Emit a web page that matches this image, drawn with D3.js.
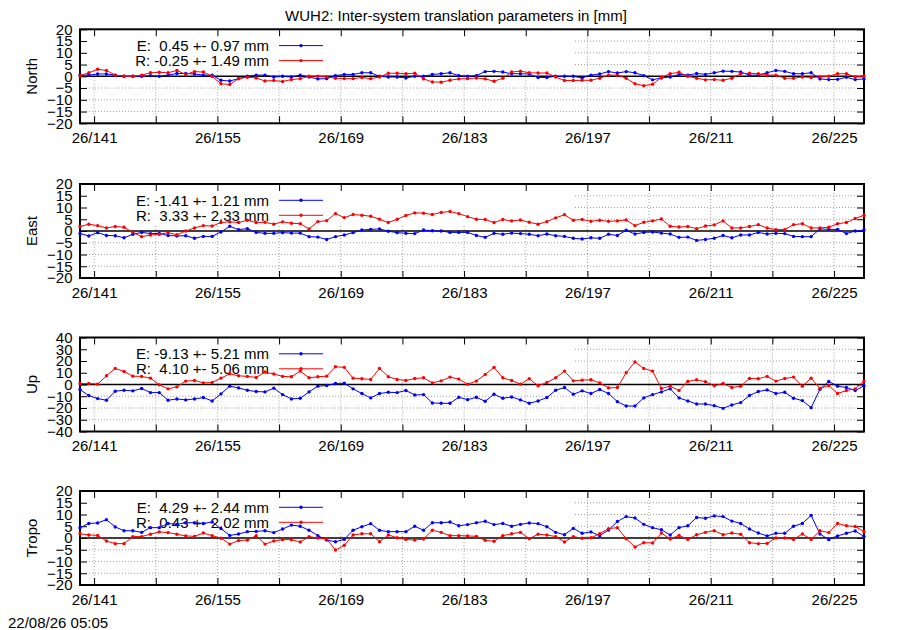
<!DOCTYPE html>
<html>
<head>
<meta charset="utf-8">
<script src="https://cdn.jsdelivr.net/npm/d3@7"></script>
<style>
  body { margin: 0; background: #fff; }
  text { font-family: "Liberation Sans", Arial, sans-serif; font-size: 15px; fill: #000; }
  .keytxt { white-space: pre; }
</style>
</head>
<body>
<svg id="chart"></svg>
<script>
// day of year 2026, one solution per day
var days = d3.range(139, 229);
var xTickDays = d3.range(141, 229, 7);   // labels only every 14 days

var panelNames = ["North", "East", "Up", "Tropo"];
var yLimits = [20, 20, 40, 20];
var yStepSizes = [5, 5, 10, 5];

// legend statistics (mean +- rms)
var meanE = [0.45, -1.41, -9.13, 4.29];
var rmsE = [0.97, 1.21, 5.21, 2.44];
var meanR = [-0.25, 3.33, 4.10, 0.43];
var rmsR = [1.49, 2.33, 5.06, 2.02];

// E = Galileo, R = GLONASS (mm)
var northE = [0.5, 0.5, 1, 1, 0.5, 0, 0, 0, 0.3, 0,
  0.5, 1.2, 1.2, 1, 0.5, 0.5, -1.7, -2, -1, 0,
  0.5, 0.5, -0.3, 0, -0.3, 0.5, -0.3, -1.1, -1, 0.3,
  0.8, 0.8, 1.5, 1.5, 0, -0.3, -0.3, -0.7, 0, 0,
  0.8, 1.1, 1.5, 0.3, 0, 0.3, 2, 2.1, 1.8, 1.1,
  1.1, 1.0, -0.5, -0.5, 0, 0, 0, -0.7, 0.5, 1,
  2, 1.4, 2, 1.5, 0.3, -1.5, -0.7, -0.3, 0.8, 0.5,
  1.2, 0.8, 1.5, 2.2, 2.1, 1.8, 0.5, 0.5, 1.5, 2.5,
  2.1, 1.1, 1.1, 1.5, -1.1, -1.4, -1.3, -0.4, -1.4, -1.1];
var northR = [0.3, 1.5, 3, 2.5, 0.5, 0, 0, 0.5, 1.5, 1.7,
  1.5, 2.5, 0.8, 2, 1.8, 0, -3.2, -3.5, -1, -0.4,
  -0.7, -2, -1.8, -2.2, -1.4, -1, 0, 0, -0.3, -0.8,
  -1, -1, -0.5, -1, -0.3, 1.3, 1.3, 1.1, 1.3, -1.1,
  -2.4, -2.5, -1.7, -1.1, -1, -0.7, -1.1, -2.1, -0.8, 1.8,
  2.2, 1.5, 1.4, 1.4, -0.3, -1.8, -1.8, -1.7, -1.7, -0.8,
  0.5, 0.5, -0.8, -3.2, -4, -3.4, -0.5, 1.1, 1.7, 0,
  -0.8, -1.5, -1.4, -1.7, -0.8, 1.1, 1.3, 1.1, 0.5, 0.5,
  -0.8, -0.8, -0.3, -0.5, -0.3, 0, 1.1, 1.1, -0.3, 0.2];
var eastE = [-1.1, -2.1, -0.7, -1.9, -2, -2.9, -1.4, -0.6, -1.1, -1,
  -1.9, -2.1, -2, -3.1, -2.3, -2.3, -0.4, 2, 0.6, 1,
  -0.6, -1, -1, -0.7, -0.9, -0.9, -2.4, -2.6, -3.6, -2.4,
  -1.7, -0.7, 0.4, 0.7, 0.9, -0.1, -0.7, -1, -1.1, 0.4,
  0.1, 0, -0.6, -0.6, -0.6, -1.9, -2.7, -1, -1.4, -0.9,
  -1.1, -1.4, -2, -1.3, -2, -2.3, -3.1, -3.4, -2.9, -3.1,
  -1.4, -1.9, 0.3, -1.3, -0.6, -0.4, -0.9, -1.3, -2.7, -2.6,
  -4, -3.6, -3.1, -1.9, -2.9, -1.7, -1.7, -0.6, -1.3, -1,
  -1.1, -2.3, -2.4, -2.4, 0.9, 0.7, 0.7, -1.1, 0, 0.4];
var eastR = [1.9, 2.9, 2.3, 1.3, 1.9, 1.6, -0.6, -2.4, -1.7, -1.4,
  -0.7, -1.6, 0, 1.3, 2.3, 2.1, 3.6, 3.9, 3.6, 4.6,
  3.6, 3.7, 2.9, 3.9, 3.3, 3.1, 0.9, 4, 4.4, 7.4,
  5.7, 7, 6.7, 6.3, 5, 3.6, 5, 6.6, 7.7, 7.6,
  7, 7.9, 8.3, 7.4, 6.1, 5, 4.9, 3.6, 4.9, 4.3,
  4.7, 3.7, 2.9, 4, 5.6, 6.9, 4.6, 4.9, 4.1, 4.6,
  4.1, 4.3, 4.7, 2.3, 3.7, 4.3, 5.1, 2, 1.7, 1.9,
  1, 2.1, 2.6, 4.3, 1.3, 1.3, 1.9, 2.7, 1.3, 0.6,
  0.6, 2.7, 3.1, 1.3, 1.3, 1.6, 3.1, 3.6, 5.3, 6.7];
var upE = [-4.3, -9.4, -12, -13.4, -5.7, -4.9, -5.4, -3.4, -6.9, -6.9,
  -13.4, -12.3, -13.1, -12.3, -11.1, -14, -8, -1.4, -2.9, -4.9,
  -6, -6.3, -3.1, -8.6, -12.3, -11.7, -6.3, -1.4, -0.9, 0.9,
  1.1, -3.7, -7.7, -11.4, -7.7, -6.6, -6.9, -5.1, -8.9, -8.6,
  -15.7, -16, -16, -10.9, -12.9, -10.9, -14.3, -8.3, -11.7, -10.6,
  -13.1, -16, -14, -11.1, -4.9, -2.6, -8.3, -5.4, -7.7, -4.3,
  -7.7, -14.6, -18.3, -18.3, -11.4, -8.6, -6.3, -3.7, -11.4, -14,
  -16.6, -16.6, -18, -20.3, -17.4, -15.4, -9.4, -6, -4.6, -7.7,
  -6.6, -11.7, -13.7, -19.7, -4, 2.6, -1.4, -2.6, -5.1, -1.1];
var upR = [0.9, 0.9, 0.3, 7.4, 13.7, 11.1, 7.1, 6.9, 5.4, -0.3,
  -3.7, -2, 2.9, 3.4, 1.4, 1.7, 5.4, 9.1, 7.4, 6.9,
  6, 10.6, 8.9, 6.9, 6.6, 11.4, 5.7, 6.6, 7.1, 15.1,
  14.6, 5.4, 4.9, 4.3, 13.7, 6.6, 4.3, 3.4, 5.1, 5.7,
  1.4, 3.1, 6.3, 4.6, 0.3, 2.9, 8.6, 14.6, 5.7, 3.4,
  0.3, 4.9, -1.1, 1.7, 5.7, 11.4, 3.1, 3.7, 4, 1.4,
  -2.9, -2.6, 10, 19.1, 13.7, 11.4, -3.4, -1.4, -5.1, 2.6,
  4, 2.3, -1.1, 0.9, -2.6, -1.4, 5.1, 4.9, 6.9, 2.9,
  5.1, 6.3, -1.4, 5.4, -3.4, -0.9, -7.7, -5.1, -3.7, 2.9];
var tropoE = [4.4, 6.2, 6.4, 7.8, 4.7, 3.1, 3.1, 2.4, 4.4, 4.4,
  6.2, 5.8, 6.5, 6.5, 6.2, 6.8, 4, 1.1, 1.7, 2.7,
  2.8, 3.1, 2.3, 3.8, 5.5, 5, 3.3, 1, -0.9, -1.6,
  -0.6, 3.3, 4.8, 6.1, 3.3, 2.7, 2.7, 2.7, 5, 3.3,
  6.5, 6.5, 6.8, 5.2, 5.7, 6.5, 7.1, 5.7, 6.2, 5,
  5.8, 6.4, 6.1, 4.8, 2.4, 1.4, 4.1, 2, 2.6, 1,
  3.4, 7, 9.1, 8.5, 5.8, 4.4, 3.5, 1.3, 4.4, 5.2,
  8.7, 8.4, 9.4, 9.1, 7.2, 6.2, 3.8, 2.1, 0.9, 2,
  2, 5, 6.2, 9.6, 1.7, -0.7, 0.9, 2, 3, 0.7];
var tropoR = [1.8, 1.3, 1.1, -1.3, -2.4, -2.4, 0.6, 0.6, 1.6, 2.6,
  2.3, 1.6, 0.9, 0.7, 2.1, 1, -0.1, -2.6, -1.1, -0.9,
  1, -2.6, -1.3, -0.7, -0.7, -1.7, 0.6, 0, -0.4, -5.1,
  -3.1, 1.3, 1.8, 1.8, -1.6, 1.3, 0.1, -0.6, -0.9, -0.4,
  3.3, 2.4, 1, 1, 0.9, 0.7, -1, -1.4, 1, 1.8,
  2.4, -0.3, 1.6, 1.3, 0.6, -1.7, 0.6, -0.1, 0.1, 1.8,
  4, 4.4, -0.3, -3.8, -2, -2.1, 2.1, -0.4, 1.1, -0.6,
  1.4, 2.4, 3.1, 1.4, 2.1, 1.6, -2, -2.4, -2.3, 0,
  0, -0.6, 1.7, -0.6, 3.1, 2.3, 6.2, 5.2, 4.9, 2.7];

var seriesE = [northE, eastE, upE, tropoE];
var seriesR = [northR, eastR, upR, tropoR];

var width = 900, height = 630;
var left = 80, right = 864;
var panelTops = [29.3, 184, 337.5, 491];
var panelH = 94;
var tickLen = 7;
var blue = "#0000ff", red = "#ff0000";
var fontFam = '"Liberation Sans", Arial, sans-serif';

var svg = d3.select("#chart")
  .attr("width", width)
  .attr("height", height);

svg.append("rect")
  .attr("width", width)
  .attr("height", height)
  .attr("fill", "#fff");

// solutions are at ~09:40 of each day
var xScale = d3.scaleLinear()
  .domain([139.4, 228.4])
  .range([left, right]);

svg.append("text")
  .text("WUH2: Inter-system translation parameters in [mm]")
  .attr("x", 456)
  .attr("y", 20.7)
  .attr("text-anchor", "middle");

svg.append("text")
  .text("22/08/26 05:05")
  .attr("x", 8)
  .attr("y", 628);

function keyText(name, mean, rms) {
  return name + ": " + (mean < 0 ? "" : " ") + mean.toFixed(2) + " +- " + rms.toFixed(2) + " mm";
}

function styleAxis(g) {
  g.attr("font-size", 15).attr("font-family", fontFam);
  g.select(".domain").remove();
  g.selectAll("line").attr("stroke", "#000").attr("stroke-width", 1);
}

panelNames.forEach(function(name, p) {
  var top = panelTops[p], bottom = top + panelH;
  var lim = yLimits[p];
  var yTicks = d3.range(-lim, lim + 0.001, yStepSizes[p]);
  var yScale = d3.scaleLinear()
    .domain([-lim, lim])
    .range([bottom, top]);

  var g = svg.append("g").attr("class", "panel");

  // dotted grid
  g.selectAll(".hgrid")
    .data(yTicks.filter(function(v) { return v !== -lim && v !== lim && v !== 0; }))
    .enter().append("line")
    .attr("x1", left).attr("x2", right)
    .attr("y1", function(v) { return yScale(v); })
    .attr("y2", function(v) { return yScale(v); })
    .attr("stroke", "#a0a0a0")
    .attr("stroke-dasharray", "1,2");
  g.selectAll(".vgrid")
    .data(xTickDays)
    .enter().append("line")
    .attr("x1", function(d) { return xScale(d); })
    .attr("x2", function(d) { return xScale(d); })
    .attr("y1", top).attr("y2", bottom)
    .attr("stroke", "#a0a0a0")
    .attr("stroke-dasharray", "1,2");

  // opaque key box hides the grid in the upper left
  g.append("rect")
    .attr("x", left + 1)
    .attr("y", top + 1)
    .attr("width", 573 - left)
    .attr("height", 40)
    .attr("fill", "#fff");

  // zero line
  g.append("line")
    .attr("x1", left).attr("x2", right)
    .attr("y1", yScale(0)).attr("y2", yScale(0))
    .attr("stroke", "#000")
    .attr("stroke-width", 1.5);

  // axes, ticks pointing inwards
  g.append("g")
    .attr("transform", "translate(" + left + ",0)")
    .call(d3.axisLeft(yScale).tickValues(yTicks).tickSize(-tickLen).tickPadding(7.5)
      .tickFormat(d3.format("d")))
    .call(styleAxis);
  g.append("g")
    .attr("transform", "translate(" + right + ",0)")
    .call(d3.axisRight(yScale).tickValues(yTicks).tickSize(-tickLen).tickFormat(""))
    .call(styleAxis);
  g.append("g")
    .attr("transform", "translate(0," + top + ")")
    .call(d3.axisTop(xScale).tickValues(xTickDays).tickSize(-tickLen).tickFormat(""))
    .call(styleAxis);
  g.append("g")
    .attr("transform", "translate(0," + bottom + ")")
    .call(d3.axisBottom(xScale).tickValues(xTickDays).tickSize(-tickLen).tickPadding(9)
      .tickFormat(function(d) { return (d - 141) % 14 === 0 ? "26/" + d : ""; }))
    .call(styleAxis);

  // frame
  g.append("rect")
    .attr("x", left).attr("y", top)
    .attr("width", right - left).attr("height", panelH)
    .attr("fill", "none")
    .attr("stroke", "#000")
    .attr("stroke-width", 2);

  // y-axis label
  g.append("text")
    .text(name)
    .attr("transform", "translate(32," + (top + panelH / 2) + ") rotate(-90)")
    .attr("text-anchor", "middle")
    .attr("dy", "0.35em");

  // key
  var keys = [
    {txt: keyText("E", meanE[p], rmsE[p]), color: blue, dy: 16.3},
    {txt: keyText("R", meanR[p], rmsR[p]), color: red, dy: 31.3}
  ];
  keys.forEach(function(k) {
    g.append("text")
      .attr("class", "keytxt")
      .text(k.txt)
      .attr("x", 269)
      .attr("y", top + k.dy)
      .attr("dy", "0.35em")
      .attr("text-anchor", "end");
    g.append("line")
      .attr("x1", 279).attr("x2", 323)
      .attr("y1", top + k.dy).attr("y2", top + k.dy)
      .attr("stroke", k.color)
      .attr("stroke-width", 1);
    g.append("circle")
      .attr("cx", 301).attr("cy", top + k.dy)
      .attr("r", 1.7)
      .attr("fill", k.color);
  });

  // data: blue first, red on top
  [[seriesE[p], blue], [seriesR[p], red]].forEach(function(s) {
    var pts = s[0].map(function(v, i) { return [days[i] + 0.4, v]; });
    var line = d3.line()
      .x(function(d) { return xScale(d[0]); })
      .y(function(d) { return yScale(d[1]); });
    g.append("path")
      .datum(pts)
      .attr("d", line)
      .attr("fill", "none")
      .attr("stroke", s[1])
      .attr("stroke-width", 1);
    g.selectAll(null)
      .data(pts)
      .enter().append("circle")
      .attr("cx", function(d) { return xScale(d[0]); })
      .attr("cy", function(d) { return yScale(d[1]); })
      .attr("r", 1.7)
      .attr("fill", s[1]);
  });
});
</script>
</body>
</html>
